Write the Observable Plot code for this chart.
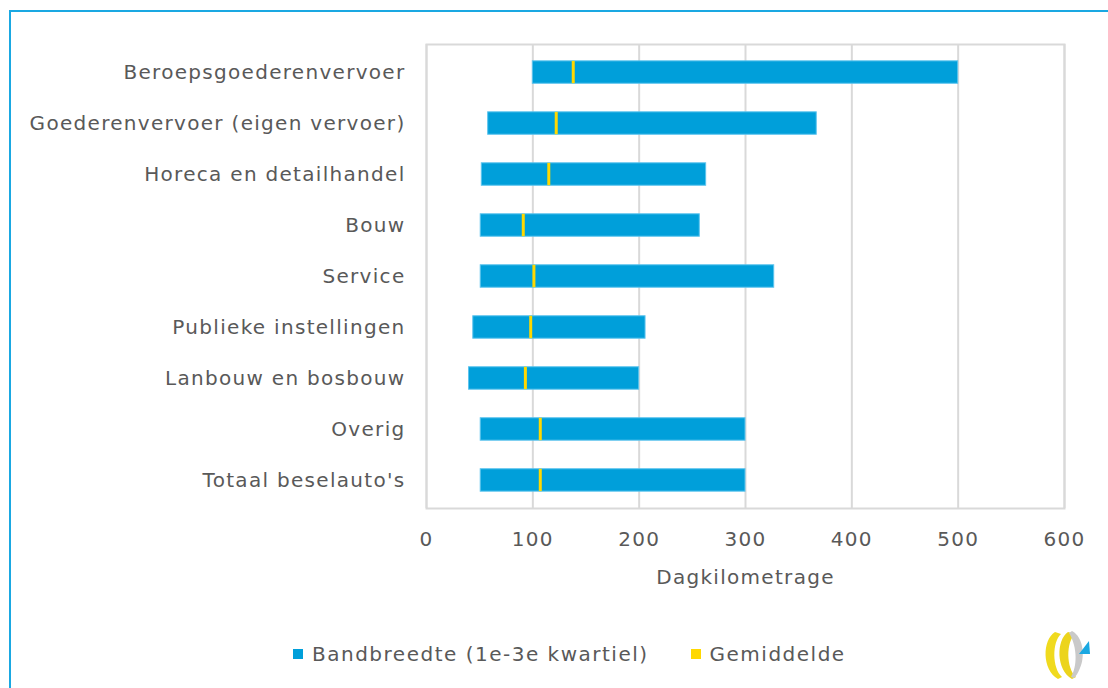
<!DOCTYPE html>
<html>
<head>
<meta charset="utf-8">
<script src="https://cdn.jsdelivr.net/npm/d3@7"></script>
<script src="https://cdn.jsdelivr.net/npm/@observablehq/plot@0.6"></script>
<style>
  html, body { margin: 0; padding: 0; background: #fff; overflow: hidden; }
  #wrap { position: relative; width: 1108px; height: 688px; font-family: "DejaVu Sans", sans-serif; color: #595959; }
  #border { position: absolute; left: 9px; top: 10px; width: 1120px; height: 700px; border-top: 2px solid #1aa8e2; border-left: 2px solid #1aa8e2; box-sizing: border-box; }
  #chart { position: absolute; left: 0; top: 0; }
  #legend { position: absolute; left: 293px; top: 642px; display: flex; align-items: center; font-size: 20px; letter-spacing: 1.5px; white-space: nowrap; }
  #legend .item { display: flex; align-items: center; }
  #legend .sw { width: 10px; height: 10px; margin-right: 9px; display: inline-block; }
  #logo { position: absolute; left: 1030px; top: 610px; }
</style>
</head>
<body>
<div id="wrap">
  <div id="border"></div>
  <div id="chart"></div>
  <div id="legend"></div>
  <svg id="logo" width="78" height="78" viewBox="0 0 78 78">
    <path d="M25 22 C12 30 12 60 28 69 L32 67 C22 58 22 32 31 24 Z" fill="#f0da1e"/>
    <path d="M38 22 C26 30 26 60 42 69 L46 67 C36 58 36 32 45 24 Z" fill="#ecd41c"/>
    <path d="M42 21 C54 27 55 48 50 58 C48 63 46 66 44 68 L41 67 C47 57 48 38 39 23 Z" fill="#c9c9c9"/>
    <path d="M49 44 L59 31 L60 44 Z" fill="#1aa8e2"/>
  </svg>
</div>
<script>
const categories = [
  "Beroepsgoederenvervoer",
  "Goederenvervoer (eigen vervoer)",
  "Horeca en detailhandel",
  "Bouw",
  "Service",
  "Publieke instellingen",
  "Lanbouw en bosbouw",
  "Overig",
  "Totaal beselauto's"
];
const q1Values = [100, 58, 52, 51, 51, 44, 40, 51, 51];
const q3Values = [500, 367, 263, 257, 327, 206, 200, 300, 300];
const meanValues = [138, 122, 115, 91, 101, 98, 93, 107, 107];
const xTicks = [0, 100, 200, 300, 400, 500, 600];
const axisTitle = "Dagkilometrage";
const legendLabels = ["Bandbreedte (1e-3e kwartiel)", "Gemiddelde"];
const colors = { band: "#009fda", bandStroke: "#5cc4ee", mean: "#ffd800", grid: "#d9d9d9", text: "#595959" };

const data = categories.map((c, i) => ({ cat: c, q1: q1Values[i], q3: q3Values[i], mean: meanValues[i] }));

const chart = Plot.plot({
  width: 1108,
  height: 600,
  marginLeft: 426,
  marginRight: 44,
  marginTop: 44,
  marginBottom: 92,
  style: { fontFamily: "DejaVu Sans, sans-serif", fontSize: "20px", color: colors.text, letterSpacing: "1.3px", background: "transparent", overflow: "visible" },
  x: { domain: [0, 600], ticks: xTicks, label: null },
  y: { domain: categories, paddingInner: 0.56, paddingOuter: 0.33, round: false, label: null },
  marks: [
    Plot.gridX(xTicks, { stroke: colors.grid, strokeOpacity: 1, strokeWidth: 2 }),
    Plot.frame({ stroke: colors.grid, strokeWidth: 2 }),
    Plot.axisY({ tickSize: 0, tickPadding: 21, label: null, fill: colors.text, fontSize: 20 }),
    Plot.axisX(xTicks, { tickSize: 0, tickPadding: 23, label: null, fill: colors.text, fontSize: 20 }),
    Plot.text([axisTitle], { frameAnchor: "bottom", dy: 75, fill: colors.text, fontSize: 20 }),
    Plot.barX(data, { x1: "q1", x2: "q3", y: "cat", fill: colors.band, stroke: colors.bandStroke, strokeWidth: 1 }),
    Plot.tickX(data, { x: "mean", y: "cat", stroke: colors.mean, strokeWidth: 3 })
  ]
});
document.getElementById("chart").appendChild(chart);

const legend = document.getElementById("legend");
[[legendLabels[0], colors.band], [legendLabels[1], colors.mean]].forEach(([label, col], i) => {
  const item = document.createElement("div");
  item.className = "item";
  if (i > 0) item.style.marginLeft = "42px";
  const sw = document.createElement("span");
  sw.className = "sw";
  sw.style.background = col;
  const t = document.createElement("span");
  t.textContent = label;
  item.appendChild(sw);
  item.appendChild(t);
  legend.appendChild(item);
});
</script>
</body>
</html>
